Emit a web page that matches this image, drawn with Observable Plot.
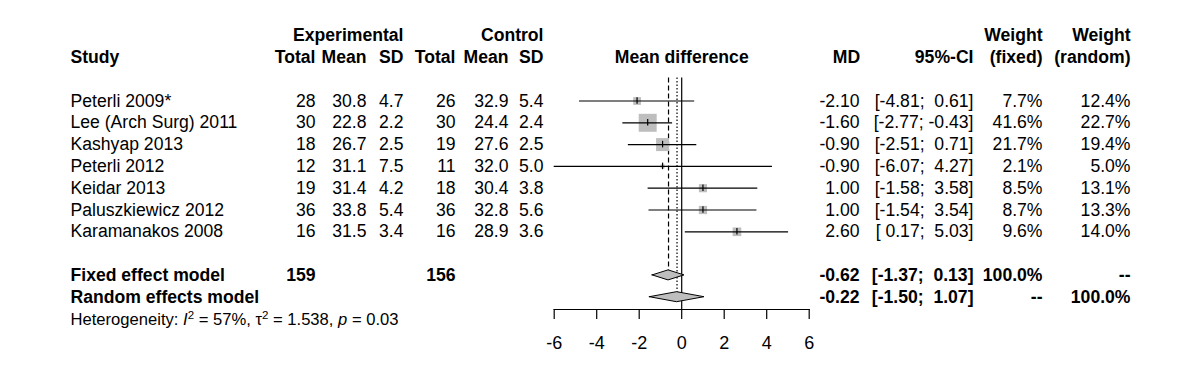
<!DOCTYPE html>
<html>
<head>
<meta charset="utf-8">
<script src="https://cdn.jsdelivr.net/npm/d3@7"></script>
<script src="https://cdn.jsdelivr.net/npm/@observablehq/plot@0.6"></script>
<style>
  html, body { margin: 0; padding: 0; background: #fff; }
  svg text { white-space: pre; }
</style>
</head>
<body>
<div id="chart"></div>
<script>
// ---- data ----
const studies = ["Peterli 2009*", "Lee (Arch Surg) 2011", "Kashyap 2013", "Peterli 2012", "Keidar 2013", "Paluszkiewicz 2012", "Karamanakos 2008"];
const expTotal = [28, 30, 18, 12, 19, 36, 16];
const expMean = [30.8, 22.8, 26.7, 31.1, 31.4, 33.8, 31.5];
const expSD = [4.7, 2.2, 2.5, 7.5, 4.2, 5.4, 3.4];
const ctrlTotal = [26, 30, 19, 11, 18, 36, 16];
const ctrlMean = [32.9, 24.4, 27.6, 32.0, 30.4, 32.8, 28.9];
const ctrlSD = [5.4, 2.4, 2.5, 5.0, 3.8, 5.6, 3.6];
const md = [-2.10, -1.60, -0.90, -0.90, 1.00, 1.00, 2.60];
const ciLower = [-4.81, -2.77, -2.51, -6.07, -1.58, -1.54, 0.17];
const ciUpper = [0.61, -0.43, 0.71, 4.27, 3.58, 3.54, 5.03];
const weightFixed = [7.7, 41.6, 21.7, 2.1, 8.5, 8.7, 9.6];
const weightRandom = [12.4, 22.7, 19.4, 5.0, 13.1, 13.3, 14.0];

const models = ["Fixed effect model", "Random effects model"];
const modelExpTotal = [159, null];
const modelCtrlTotal = [156, null];
const modelMD = [-0.62, -0.22];
const modelLower = [-1.37, -1.50];
const modelUpper = [0.13, 1.07];
const modelWeightFixed = ["100.0%", "--"];
const modelWeightRandom = ["--", "100.0%"];

const heteroI2 = "57%";
const heteroTau2 = "1.538";
const heteroP = "0.03";

const xTicks = [-6, -4, -2, 0, 2, 4, 6];

// ---- layout ----
const ML = 553.7, MR = 391.3;
const cols = {study: 70, expTotal: 315, expMean: 366, expSD: 403, ctrlTotal: 455, ctrlMean: 508, ctrlSD: 543,
              md: 859, mdHead: 846, ci: 973, wf: 1042, wr: 1130};
const dx = k => cols[k] - ML;
const f1 = v => v.toFixed(1), f2 = v => v.toFixed(2);
const padNum = v => (v >= 0 ? " " : "") + f2(v);
const ciText = (lo, hi) => `[${padNum(lo)}; ${padNum(hi)}]`;

const studyData = studies.map((s, i) => ({
  study: s, row: i,
  et: String(expTotal[i]), em: f1(expMean[i]), es: f1(expSD[i]),
  ct: String(ctrlTotal[i]), cm: f1(ctrlMean[i]), cs: f1(ctrlSD[i]),
  md: md[i], lo: ciLower[i], hi: ciUpper[i],
  mdt: f2(md[i]), ci: ciText(ciLower[i], ciUpper[i]),
  wf: weightFixed[i], wr: weightRandom[i],
  wft: f1(weightFixed[i]) + "%", wrt: f1(weightRandom[i]) + "%"
}));
const HH = 0.23; // diamond half height in rows
const modelData = models.map((m, i) => ({
  model: m, row: 8 + i,
  et: modelExpTotal[i] == null ? "" : String(modelExpTotal[i]),
  ct: modelCtrlTotal[i] == null ? "" : String(modelCtrlTotal[i]),
  md: modelMD[i], lo: modelLower[i], hi: modelUpper[i],
  mdt: f2(modelMD[i]), ci: ciText(modelLower[i], modelUpper[i]),
  wft: modelWeightFixed[i], wrt: modelWeightRandom[i]
}));
const diamondPts = modelData.flatMap(d => [
  {model: d.model, x: d.lo, y1: d.row, y2: d.row},
  {model: d.model, x: d.md, y1: d.row - HH, y2: d.row + HH},
  {model: d.model, x: d.hi, y1: d.row, y2: d.row}
]);

const FS = 17.6;
const txt = (data, field, col, opts = {}) => Plot.text(data, {
  y: "row", text: field, frameAnchor: "left", dx: dx(col), textAnchor: "end", fontSize: FS, fill: "black", ...opts
});
const lbl = (label, row, col, opts = {}) => Plot.text([label], {
  y: () => row, text: d => d, frameAnchor: "left", dx: dx(col), textAnchor: "end", fontSize: FS, fill: "black", fontWeight: "bold", ...opts
});

const heteroLabel = `Heterogeneity: I2 = ${heteroI2}, τ2 = ${heteroTau2}, p = ${heteroP}`;

const chart = Plot.plot({
  width: 1200, height: 387,
  marginLeft: ML, marginRight: MR, marginTop: 0, marginBottom: 78,
  x: {domain: [-6, 6], axis: null},
  y: {domain: [0, 10], range: [100.5, 318.5], axis: null},
  r: {range: [0, 10.15]},
  style: {fontFamily: "'Liberation Sans', Arial, Helvetica, sans-serif", background: "white", color: "black", overflow: "visible"},
  marks: [
    // header rows
    lbl("Experimental", -3, "expSD"),
    lbl("Control", -3, "ctrlSD"),
    lbl("Weight", -3, "wf"),
    lbl("Weight", -3, "wr"),
    lbl("Study", -2, "study", {textAnchor: "start"}),
    lbl("Total", -2, "expTotal"),
    lbl("Mean", -2, "expMean"),
    lbl("SD", -2, "expSD"),
    lbl("Total", -2, "ctrlTotal"),
    lbl("Mean", -2, "ctrlMean"),
    lbl("SD", -2, "ctrlSD"),
    Plot.text(["Mean difference"], {x: () => 0, y: () => -2, text: d => d, fontSize: FS, fontWeight: "bold", fill: "black"}),
    lbl("MD", -2, "mdHead", {textAnchor: "middle"}),
    lbl("95%-CI", -2, "ci"),
    lbl("(fixed)", -2, "wf"),
    lbl("(random)", -2, "wr"),

    // study rows text
    txt(studyData, "study", "study", {textAnchor: "start"}),
    txt(studyData, "et", "expTotal"),
    txt(studyData, "em", "expMean"),
    txt(studyData, "es", "expSD"),
    txt(studyData, "ct", "ctrlTotal"),
    txt(studyData, "cm", "ctrlMean"),
    txt(studyData, "cs", "ctrlSD"),
    txt(studyData, "mdt", "md"),
    txt(studyData, "ci", "ci"),
    txt(studyData, "wft", "wf"),
    txt(studyData, "wrt", "wr"),

    // model rows text
    txt(modelData, "model", "study", {textAnchor: "start", fontWeight: "bold"}),
    txt(modelData, "et", "expTotal", {fontWeight: "bold"}),
    txt(modelData, "ct", "ctrlTotal", {fontWeight: "bold"}),
    txt(modelData, "mdt", "md", {fontWeight: "bold"}),
    txt(modelData, "ci", "ci", {fontWeight: "bold"}),
    txt(modelData, "wft", "wf", {fontWeight: "bold"}),
    txt(modelData, "wrt", "wr", {fontWeight: "bold"}),

    // heterogeneity
    Plot.text([heteroLabel], {y: () => 10.05, text: d => d, frameAnchor: "left", dx: dx("study"), textAnchor: "start", fontSize: 16.6, fill: "black"}),

    // reference lines
    Plot.ruleX([0], {y1: () => -1.05, y2: () => 9.56, stroke: "black", strokeWidth: 1.2}),
    Plot.ruleX([modelMD[0]], {x: d => d, y1: () => -1.05, y2: () => 8 - HH, stroke: "black", strokeWidth: 1.2, strokeDasharray: "5,3"}),
    Plot.ruleX([modelMD[1]], {x: d => d, y1: () => -1.05, y2: () => 9 - HH, stroke: "black", strokeWidth: 1.2, strokeDasharray: "1.5,2"}),

    // boxes, CIs, point ticks
    Plot.dot(studyData, {x: "md", y: "row", r: "wf", symbol: "square", fill: "#bebebe", stroke: "none"}),
    Plot.ruleY(studyData, {y: "row", x1: "lo", x2: "hi", stroke: "black", strokeWidth: 1.2, clip: "frame"}),
    Plot.ruleX(studyData, {x: "md", y1: d => d.row - 0.15, y2: d => d.row + 0.15, stroke: "black", strokeWidth: 1.2}),

    // diamonds
    Plot.areaY(diamondPts, {x: "x", y1: "y1", y2: "y2", z: "model", fill: "#bebebe", stroke: "black", strokeWidth: 1}),

    // axis
    Plot.frame({anchor: "bottom", stroke: "black", strokeWidth: 1.2}),
    Plot.axisX({ticks: xTicks, tickFormat: d => String(d), tickSize: 10, tickPadding: 17, fontSize: 18, label: null, anchor: "bottom", stroke: "black", strokeWidth: 1.2, fill: "black"})
  ]
});

document.getElementById("chart").appendChild(chart);

// rich formatting for heterogeneity text (italic symbols and superscripts)
d3.select(chart).selectAll("text").filter(function () { return this.textContent === heteroLabel; })
  .each(function () {
    const t = d3.select(this);
    t.text(null);
    const parts = [
      ["Heterogeneity: ", {}],
      ["I", {"font-style": "italic"}],
      ["2", {sup: true}],
      [` = ${heteroI2}, τ`, {down: true}],
      ["2", {sup: true}],
      [` = ${heteroTau2}, `, {down: true}],
      ["p", {"font-style": "italic"}],
      [` = ${heteroP}`, {}]
    ];
    for (const [s, o] of parts) {
      const ts = t.append("tspan").text(s);
      if (o["font-style"]) ts.attr("font-style", o["font-style"]);
      if (o.sup) ts.attr("dy", -6).attr("font-size", 11.5);
      if (o.down) ts.attr("dy", 6);
    }
  });
</script>
</body>
</html>
